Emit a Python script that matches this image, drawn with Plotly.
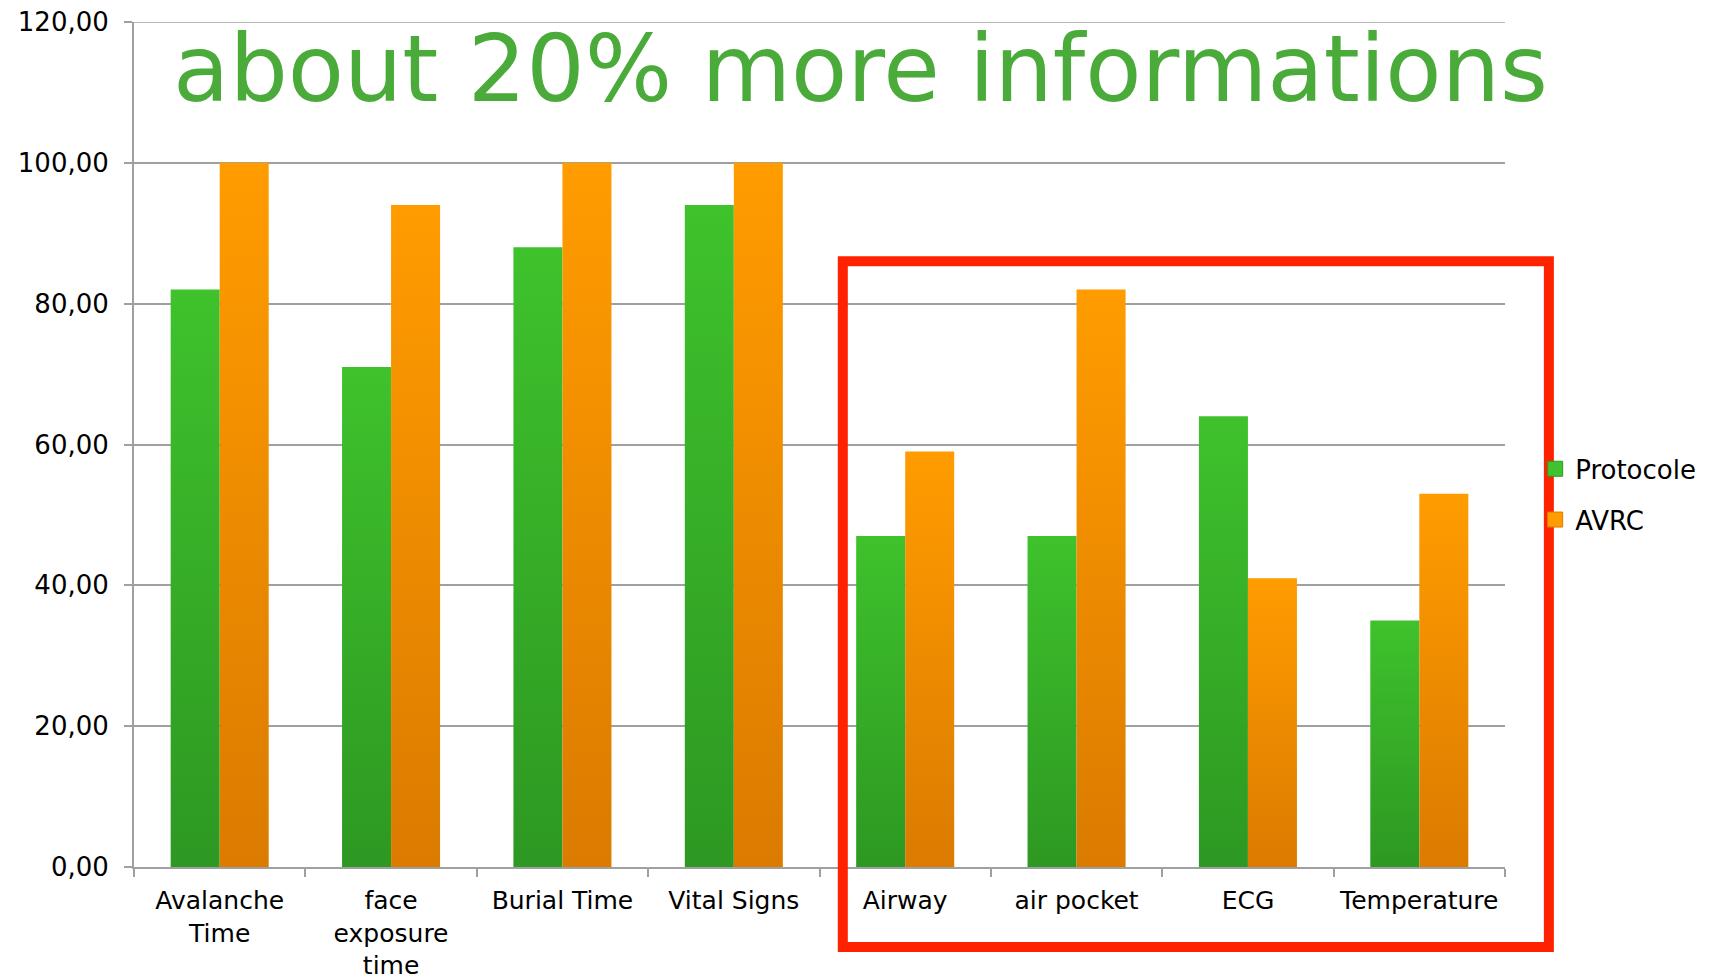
import plotly.graph_objects as go

categories = ["Avalanche<br>Time", "face<br>exposure<br>time", "Burial Time", "Vital Signs",
              "Airway", "air pocket", "ECG", "Temperature"]
protocole = [82, 71, 88, 94, 47, 47, 64, 35]
avrc = [100, 94, 100, 100, 59, 82, 41, 53]

GREEN = ("#3fc22c", "#2d9822")
ORANGE = ("#ff9c00", "#db7b00")
GRID = "#a0a0a0"
BAR_W = 0.286
FONT = "DejaVu Sans"

fig = go.Figure()


def add_bars(values, offset, colors, name):
    # each bar is its own filled polygon so it can carry a vertical gradient
    for i, v in enumerate(values):
        x0 = i + offset
        x1 = x0 + BAR_W
        fig.add_scatter(
            x=[x0, x1, x1, x0, x0],
            y=[0, 0, v, v, 0],
            mode="lines",
            line=dict(width=0),
            fill="toself",
            fillgradient=dict(type="vertical",
                              colorscale=[[0, colors[1]], [1, colors[0]]]),
            hoverinfo="skip",
            showlegend=False,
        )
    # legend entry
    fig.add_scatter(x=[None], y=[None], name=name, mode="markers",
                    marker=dict(symbol="square", size=15, color=colors[0],
                                line=dict(width=1, color=colors[1])),
                    legendgroup=name)


add_bars(protocole, -BAR_W, GREEN, "Protocole")
add_bars(avrc, 0, ORANGE, "AVRC")

fig.add_annotation(
    text="about 20% more informations",
    xref="paper", yref="y", x=0.53, y=113.2,
    xanchor="center", yanchor="middle", showarrow=False,
    font=dict(family=FONT, size=92, color="#4aab3a"),
)

# top gridline sits on the range edge, plotly drops it, so draw it
fig.add_hline(y=120, line=dict(color=GRID, width=1.5), layer="below")

# red highlight box around the last four categories
fig.add_shape(
    type="rect", xref="paper", yref="paper",
    x0=0.517, x1=1.032, y0=-0.0947, y1=0.717,
    line=dict(color="#ff2200", width=10),
)

fig.update_layout(
    width=1709, height=979,
    margin=dict(l=126, r=212, t=14, b=120, autoexpand=False),
    plot_bgcolor="white", paper_bgcolor="white",
    separators=",.",
    font=dict(family=FONT, size=26, color="black"),
    legend=dict(x=1.022, y=0.441, xanchor="left", yanchor="middle",
                bgcolor="rgba(0,0,0,0)",
                font=dict(size=26), tracegroupgap=14, itemwidth=30),
    barmode="overlay",
)
fig.update_xaxes(
    range=[-0.5, 7.5], automargin=False,
    tickvals=list(range(len(categories))), ticktext=categories,
    tickfont=dict(size=25),
    ticks="", showgrid=False, zeroline=False, ticklabelstandoff=10,
    showline=True, linecolor=GRID, linewidth=2,
    minor=dict(tickvals=[i - 0.5 for i in range(len(categories) + 1)],
               ticks="outside", ticklen=8, tickcolor=GRID, tickwidth=2),
)
fig.update_yaxes(
    range=[0, 120.001], tickvals=[0, 20, 40, 60, 80, 100, 120],
    tickformat=".2f", automargin=False, ticklabeloverflow="allow",
    showgrid=True, gridcolor=GRID, gridwidth=1.5, ticklabelstandoff=10,
    zeroline=False, showline=True, linecolor=GRID, linewidth=2,
    ticks="outside", ticklen=8, tickcolor=GRID, tickwidth=2,
)

fig.write_html("out.html")
